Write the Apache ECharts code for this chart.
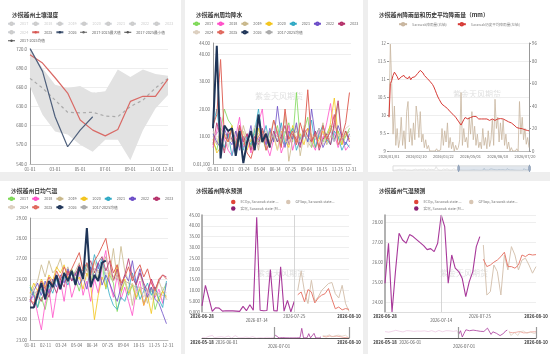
<!DOCTYPE html>
<html><head><meta charset="utf-8">
<script src="https://cdn.jsdelivr.net/npm/echarts@6/dist/echarts.min.js"></script>
<style>
html,body{margin:0;padding:0;background:#eeeeee;width:550px;height:354px;overflow:hidden}
.p{position:absolute;background:#fff}
</style></head><body>
<div id="c1" class="p" style="left:0;top:0;width:181px;height:172px"></div>
<div id="c2" class="p" style="left:185px;top:0;width:178px;height:172px"></div>
<div id="c3" class="p" style="left:368px;top:0;width:182px;height:172px"></div>
<div id="c4" class="p" style="left:0;top:181px;width:181px;height:173px"></div>
<div id="c5" class="p" style="left:185px;top:181px;width:178px;height:173px"></div>
<div id="c6" class="p" style="left:368px;top:181px;width:182px;height:173px"></div>
<script>
const FONT = "'Noto Sans CJK SC','Noto Sans',sans-serif";
function genDates(y, m, d, n, sep, withYear) {
  const out = [];
  const t0 = Date.UTC(y, m - 1, d);
  for (let i = 0; i < n; i++) {
    const dt = new Date(t0 + i * 86400000);
    const mm = String(dt.getUTCMonth() + 1).padStart(2, '0');
    const dd = String(dt.getUTCDate()).padStart(2, '0');
    out.push(withYear ? dt.getUTCFullYear() + sep + mm + sep + dd : mm + sep + dd);
  }
  return out;
}

// ---------- Panel 1 : monthly ----------
const p1Months = ['01-01','02-01','03-01','04-01','05-01','06-01','07-01','08-01','09-01','10-01','11-01','12-01'];
const p1Max  = [719, 690, 664, 659, 662, 651, 654, 688, 676, 688, 681, 678];
const p1Min  = [661, 617, 591, 586, 570, 559, 578, 578, 546, 593, 627, 648];
const p1Mean = [674, 659, 640, 621, 620, 621, 615, 614, 630, 640, 659, 674];
const p1Y2025 = [711, 698, 675, 651, 609, 593, 584, 594, 638, 646, 646, 673];
const p1Y2026 = [721, 685, 614, 567, 593, 614];

// ---------- Panel 2 : rainfall by year (10-day step) ----------
const yearNames = ['2017','2018','2019','2020','2021','2022','2023','2024','2025','2026'];
const yearColors = ['#7ed957','#ff4fc8','#c8b78a','#f3c41a','#2fa9c4','#6b4cc7','#b5316a','#dccfbf','#e0675c','#1f3558'];
const rain2017 = [8,5,12,20,16,14,4,9,7,11,6,13,8,10,5,12,9,14,7,11,15,8,26,9,12,17,6,10,13,8,11,14,9,12,7,10,13];
const rain2018 = [6,12,17,9,5,3,10,17,6,11,4,8,15,20,7,3,9,12,4,8,14,5,10,7,11,13,8,5,12,9,15,22,11,6,10,5,7];
const rain2019 = [10,7,13,5,11,8,12,6,14,9,7,11,5,13,8,10,16,12,7,18,1,9,14,3,11,8,6,12,9,15,7,10,13,22,8,11,9];
const rain2020 = [9,4,6,11,8,14,7,10,12,5,9,6,13,8,11,7,10,5,12,9,6,14,8,11,7,13,10,6,9,12,8,15,24,10,7,12,9];
const rain2021 = [14,20,9,6,11,3,8,13,5,10,7,12,20,9,14,6,11,8,15,7,10,13,5,9,12,8,16,6,11,14,9,7,12,10,5,8,6];
const rain2022 = [11,8,6,13,9,7,12,5,10,8,14,6,9,11,7,13,8,21,10,6,12,9,15,7,11,8,20,10,13,6,9,12,8,14,10,7,11];
const rain2023 = [7,15,10,4,12,9,6,14,8,11,5,10,7,13,9,6,12,8,10,14,7,11,9,6,13,10,8,12,5,9,11,7,15,23,9,12,8];
const rain2024 = [12,9,7,11,6,13,10,8,12,7,9,14,6,10,12,8,11,5,13,9,7,12,10,8,14,6,11,9,13,7,10,12,8,11,9,13,14];
const rain2025 = [14,18,38,10,8,13,6,14,9,4,2,7,10,12,5,8,16,11,6,20,9,12,7,15,10,27,8,11,6,14,9,12,18,7,10,15,26];
const rain2026 = [13,43,2,14,12,13,3,12,0.3,8,12,5,18,8,11,6];
const rainAvg  = [10,11,13,11,10,9,8,11,9,10,8,10,11,12,9,8,11,10,9,12,9,10,12,9,11,13,10,9,10,11,10,13,14,12,9,10,12];

// ---------- Panel 4 : temperature by year (10-day step) ----------
const temp2017 = [25.7,25.3,24.6,25.1,24.5,25.4,25.9,26.1,25.6,26.3,25.8,26.5,26.0,25.4,26.2,26.7,25.9,26.4,26.0,26.8,25.5,26.2,25.8,24.4,25.3,25.9,25.2,25.7,25.0,25.5,24.8,25.3,25.6,24.5,25.1,25.4,25.8];
const temp2018 = [24.9,25.2,24.3,23.5,24.8,25.5,24.1,25.3,25.9,24.9,26.2,25.1,25.7,26.4,25.2,25.9,24.9,26.0,25.3,26.6,27.4,25.8,25.1,26.2,25.0,25.6,24.9,24.2,25.4,25.9,24.7,25.3,26.0,25.1,25.5,24.8,25.8];
const temp2019 = [25.1,25.6,25.9,26.7,26.1,26.9,26.3,26.5,27.0,26.2,26.6,25.9,26.4,26.8,26.1,26.5,25.8,26.9,26.3,26.6,27.1,26.2,27.5,26.0,27.6,26.4,25.9,24.7,25.8,26.3,25.5,24.8,25.6,25.2,25.9,25.4,25.0];
const temp2020 = [25.3,25.8,25.4,26.0,25.6,26.2,25.9,26.6,26.3,26.7,26.0,26.4,25.8,26.1,25.5,26.3,25.7,24.0,25.2,26.1,25.6,26.4,25.9,26.7,25.4,26.0,25.3,25.8,25.1,25.6,24.7,25.2,24.3,25.5,24.9,25.4,25.1];
const temp2021 = [25.6,25.2,24.6,25.5,25.0,25.7,25.3,26.0,25.5,26.1,25.7,26.3,25.9,26.6,26.1,26.8,26.3,27.2,26.5,27.0,26.0,25.2,24.7,24.5,25.1,24.9,25.5,26.3,25.7,25.0,25.4,25.8,25.2,25.6,25.0,24.6,25.9];
const temp2022 = [24.9,25.4,25.8,25.2,25.9,25.3,26.0,25.6,26.2,25.8,26.5,25.9,26.3,25.7,26.1,25.5,26.6,26.0,26.8,25.7,26.2,25.8,25.3,24.9,25.6,26.2,25.9,26.9,25.8,26.5,25.7,25.1,25.6,25.0,24.8,24.3,23.8];
const temp2023 = [25.0,24.7,25.2,24.9,25.5,25.1,25.8,25.3,26.0,25.6,26.4,25.9,26.2,26.7,26.1,26.5,26.9,26.3,26.8,27.1,26.4,26.9,25.9,26.5,25.6,26.2,27.0,26.1,25.7,26.3,25.8,25.4,26.0,25.5,25.9,26.2,26.1];
const temp2024 = [25.2,25.5,25.0,25.6,25.3,25.9,25.5,26.1,25.7,26.2,25.8,26.4,26.0,26.3,25.9,26.6,26.1,26.5,26.0,26.7,26.2,26.4,25.9,26.1,25.6,25.9,25.4,25.8,25.3,25.6,25.1,25.5,25.0,25.4,25.2,25.6,25.3];
const temp2025 = [25.0,24.8,25.4,25.9,25.5,26.1,25.7,26.4,26.0,26.6,26.2,26.5,26.9,27.3,26.4,26.8,26.2,26.9,27.2,27.6,28.0,27.0,26.3,26.7,25.8,26.1,26.6,25.9,26.4,26.7,26.1,26.5,25.8,25.4,26.0,26.2,26.0];
const temp2026 = [24.6,24.6,25.2,25.8,25.0,25.9,25.6,26.2,25.5,26.3,25.9,26.4,25.7,26.6,26.0,28.5,25.6,26.2,25.9,26.8,26.9];
const tempAvg  = [25.2,25.3,25.4,25.5,25.6,25.8,25.8,26.0,26.0,26.2,26.2,26.3,26.3,26.5,26.4,26.5,26.4,26.5,26.4,26.6,26.5,26.3,26.1,26.0,25.9,25.9,25.8,25.7,25.6,25.6,25.5,25.4,25.4,25.3,25.3,25.2,25.2];

// ---------- Panel 3 : daily rainfall + historical mean ----------
const p3RainEarly = [5,12,3,20,8,1,15,6,25,4,10,2,18,7,30,3,12,9,22,5,14,1,8,16,4,28,6,11,3,19,7,24,2,13,9,35,5,17,8,40,12,6,22,10,15,4];
const p3Rain2026 = [30,95,60,15,40,5,20,3,10,30, 5,18,2,35,44,8,20,5,25,10, 40,30,12,35,8,15,3,10,2,5, 0,1,0,0,0,2,0,0,1,20, 5,18,8,25,3,12,2,8,0,5, 1,3,10,52,5,20,8,12,3,30, 15,35,10,22,5,15,3,8,2,20, 5,12,2,18,4,10,28,5,46,20, 30,8,25,10,28,5,15,2,8,0, 3,0,1,0,2,0,44,15,30,10, 20,6,12,3];
const p3Hist2026 = [9.94,10.87,10.96,11.10,11.19,11.17,11.07,10.98,11.01,11.06, 11.01,11.10,11.04,11.09,11.01,11.07,10.98,11.04,11.00,11.06, 11.10,11.15,11.19,11.24,11.22,11.17,11.10,11.06,11.02,10.98, 10.94,10.89,10.85,10.78,10.69,10.59,10.50,10.43,10.36,10.30, 10.26,10.24,10.20,10.18,10.13,10.09,10.06,10.02,9.98,9.94, 9.89,9.83,9.78,9.72,9.76,9.87,9.93,9.91,9.89,9.91, 9.93,9.94,9.96,9.98,9.96,9.93,9.89,9.91,9.89,9.87, 9.89,9.91,9.89,9.87,9.85,9.87,9.89,9.87,9.85,9.90, 9.89,9.91,9.90,9.89,9.89,9.87,9.85,9.83,9.81,9.80, 9.78,9.76,9.72,9.69,9.65,9.63,9.63,9.64,9.62,9.61, 9.59,9.59,9.57,9.56];
const p3Ticks = ['2026/01/01','2026/02/10','2026/03/22','2026/05/01','2026/06/10','2026/07/20'];

// ---------- Panels 5/6 : forecasts ----------
const fcTicks = ['2026-06-28','2026-07-14','2026-07-25','2026-08-10'];
const navTicks = ['2026-05-18','2026-06-01','2026-07-01','2026-08-10'];
const rainActEarly = [2,5,1,0,8,3,12,1,0,4,2,6,14,3,1,9,2,0,5,11,3,1,7,2,0,4,13,2,1,6,3,0,8,2,5,1,10,3,0,2,4];
const rainAct = [2.8,12.4,6.5,0.3,2,1.8,0.4,0.6,0.5,0.5,0.4,0.3,2.6,0.6,3.4,0.8,44,0.8,0.6,0.7,19.7,0.6,0.5,21,0.4,5.4,0.1,5];
const rainEC  = [8,9.3,4.7,10.4,9.3,4.2,6.5,7.8,8.5,10.9,6,1.5,2.3,1,1.6,1.2];
const rainGFS = [10,19,9.3,3.9,14.7,5,7,10,11.6,13.2,13.7,8.5,6.5,12.4,3.9,0.3];
const tempActEarly = [26.5,26.8,26.2,27.0,26.6,26.9,27.2,26.4,26.7,27.1,26.3,26.8,27.0,26.5,26.9,27.3,26.6,26.2,26.8,27.1,26.7,26.4,26.9,27.2,26.5,26.8,27.0,26.6,26.3,26.9,27.1,26.7,26.4,26.8,27.0,26.5,26.9,27.2,26.6,26.8,27.0];
const tempAct = [24.97,26.97,23.53,25.6,27.47,27.13,26.97,27.4,27.3,27.15,27.0,26.85,26.65,26.7,26.55,26.97,28.38,27.8,24.97,26.38,25.72,25.55,25.2,24.3,25.05,25.55,26.8,27.3];
const tempEC  = [26.17,25.8,25.88,26.02,26.13,26.3,26.52,25.8,25.8,25.72,25.88,26.38,26.3,26.42,26.38,26.4];
const tempGFS = [26.88,24.38,24.55,25.88,25.55,24.38,26.38,25.63,26.8,26.38,25.63,26.13,26.22,25.88,25.47,25.8];

// ---------- helpers ----------
const dayCats = genDates(2025, 1, 1, 365, '-', false);
const p3Dates = genDates(2025, 7, 1, 391, '/', true);
const fcDates = genDates(2026, 6, 28, 44, '-', true);
const navDates = genDates(2026, 5, 18, 85, '-', true);
const step10 = vals => vals.map((v, i) => [dayCats[i * 10], v]);
const AXF = 4.3;
const lbl = (extra) => Object.assign({fontSize: AXF, color: '#666', fontFamily: FONT, margin: 3, hideOverlap: false}, extra || {});
const title = (text, left, top) => ({text, left, top, padding: 0, textStyle: {fontSize: 5.8, fontWeight: 'bold', color: '#333', fontFamily: FONT}});
const water = (left, top) => ({type: 'text', left, top, z: 0, silent: true, style: {text: '紫金天风期货', fill: 'rgba(150,150,150,0.3)', fontSize: 8, fontFamily: FONT}});
const legText = {fontSize: 3.7, color: '#666', fontFamily: FONT, lineHeight: 5.5};

function init(id) { return echarts.init(document.getElementById(id), null, {renderer: 'canvas'}); }

// ===== Chart 1 =====
(function () {
  const c = init('c1');
  const band = p1Max.map((v, i) => v - p1Min[i]);
  const years = ['2017','2018','2019','2020','2021','2022','2023','2024'];
  const sel = {}; years.forEach(y => sel[y] = false);
  const series = years.map(y => ({name: y, type: 'line', data: [], symbol: 'emptyCircle'}));
  series.push(
    {name: '2017-2025最小值', type: 'line', stack: 'band', data: p1Min, symbol: 'none', color: '#555', lineStyle: {opacity: 0}, z: 1},
    {name: '2017-2025最大值', type: 'line', stack: 'band', data: band, symbol: 'none', color: '#666', lineStyle: {opacity: 0}, areaStyle: {color: '#e2e2e2', opacity: 1}, z: 1},
    {name: '2017-2025均值', type: 'line', data: p1Mean, symbol: 'none', color: '#555', lineStyle: {color: '#aaa', type: [3, 3], width: 1.2}, z: 3},
    {name: '2025', type: 'line', data: p1Y2025, symbol: 'none', color: '#d9534f', lineStyle: {width: 1.2, color: '#d96a66'}, z: 4},
    {name: '2026', type: 'line', data: p1Y2026, symbol: 'none', color: '#2c3e5c', lineStyle: {width: 1.2, color: '#4f607c'}, z: 5}
  );
  const legendData = years.concat(['2025', '2026',
    {name: '2017-2025最大值', lineStyle: {color: '#666', opacity: 1, width: 1}},
    {name: '2017-2025最小值', lineStyle: {color: '#444', opacity: 1, width: 1}},
    {name: '2017-2025均值', lineStyle: {color: '#555', opacity: 1, width: 1, type: 'solid'}}]);
  c.setOption({
    animation: false,
    title: title('沙捞越州土壤湿度', 12, 12),
    legend: {left: 7, top: 21, width: 172, itemWidth: 7, itemHeight: 3, itemGap: 3, padding: 0, textStyle: legText, inactiveColor: '#ccc', selected: sel, data: legendData},
    grid: {left: 30, right: 13, top: 49, bottom: 8, outerBoundsMode: 'none'},
    xAxis: {type: 'category', data: p1Months, boundaryGap: false, axisTick: {show: false}, axisLine: {lineStyle: {color: '#bbb'}},
      axisLabel: lbl({interval: (i) => i % 2 === 0 || i === 11, showMaxLabel: true, margin: 3})},
    yAxis: {type: 'value', min: 540, max: 720, interval: 30, axisLine: {show: true, lineStyle: {color: '#999'}}, axisTick: {show: false},
      axisLabel: lbl({formatter: v => v.toFixed(1)}), splitLine: {lineStyle: {color: '#eee'}}},
    graphic: [water(72, 92)],
    series
  });
})();

// ===== Chart 2 & 4 builder =====
function yearChart(id, ttl, arrs, avg, yAxis, grid, titleTop, legendTop, wm) {
  const c = init(id);
  const series = yearNames.map((n, k) => ({
    name: n, type: 'line', data: step10(arrs[k]), symbol: 'emptyCircle', showSymbol: false, color: yearColors[k],
    lineStyle: {width: n === '2026' ? 2 : (n === '2025' ? 1 : 0.8), color: yearColors[k]}, z: n === '2026' ? 5 : 2
  }));
  series.push({name: '2017-2025均值', type: 'line', data: step10(avg), symbol: 'emptyCircle', showSymbol: false, color: '#aaa', lineStyle: {width: 0.8, color: '#aaa'}, z: 1});
  c.setOption({
    animation: false,
    title: title(ttl, 11, titleTop),
    legend: {left: 7, top: legendTop, width: 168, itemWidth: 7, itemHeight: 3, itemGap: 3, padding: 0, textStyle: legText,
      data: yearNames.concat(['2017-2025均值'])},
    grid: Object.assign({outerBoundsMode: 'none'}, grid),
    xAxis: {type: 'category', data: dayCats, boundaryGap: false, axisTick: {show: false}, axisLine: {lineStyle: {color: '#bbb'}},
      axisLabel: lbl({interval: (i) => i % 41 === 0 || i === 364})},
    yAxis: Object.assign({type: 'value', axisLine: {show: true, lineStyle: {color: '#999'}}, axisTick: {show: false}, splitLine: {lineStyle: {color: '#eee'}}}, yAxis),
    graphic: [water(wm[0], wm[1])],
    series
  });
}
yearChart('c2', '沙捞越州周均降水',
  [rain2017, rain2018, rain2019, rain2020, rain2021, rain2022, rain2023, rain2024, rain2025, rain2026], rainAvg,
  {min: 0, max: 44, interval: 10, axisLabel: lbl({formatter: v => v === 0 ? '0.01,100' : v.toFixed(2)})},
  {left: 28, right: 12, top: 43, bottom: 8}, 12, 21, [70, 92]);
yearChart('c4', '沙捞越州日均气温',
  [temp2017, temp2018, temp2019, temp2020, temp2021, temp2022, temp2023, temp2024, temp2025, temp2026], tempAvg,
  {min: 23, max: 29, interval: 1, axisLabel: lbl({formatter: v => v.toFixed(2)})},
  {left: 30, right: 13, top: 37, bottom: 14}, 7, 15, [72, 90]);

// ===== Chart 3 =====
(function () {
  const c = init('c3');
  const rainData = p3RainEarly.map((v, i) => [p3Dates[i * 4], v]).concat(p3Rain2026.map((v, i) => [p3Dates[184 + i * 2], v]));
  const histData = p3Hist2026.map((v, i) => [p3Dates[184 + i * 2], v]);
  c.setOption({
    animation: false,
    title: title('沙捞越州降雨量和历史平均降雨量（mm）', 11, 12),
    legend: {left: 'center', top: 22, itemWidth: 8, itemHeight: 3, itemGap: 10, padding: 0, textStyle: {fontSize: 3.6, color: '#888', fontFamily: FONT}},
    grid: {left: 21, right: 21, top: 43, bottom: 21, outerBoundsMode: 'none'},
    xAxis: {type: 'category', data: p3Dates, boundaryGap: false, axisTick: {show: false}, axisLine: {lineStyle: {color: '#bbb'}},
      axisLabel: lbl({fontSize: 4, interval: (i, v) => p3Ticks.includes(v)})},
    yAxis: [
      {type: 'value', min: 9, max: 12, interval: 0.5, axisLine: {show: false}, axisTick: {show: true, length: 2, lineStyle: {color: '#999'}},
        axisLabel: lbl({formatter: v => String(v)}), splitLine: {lineStyle: {color: '#eee'}}},
      {type: 'value', min: 0, max: 96, interval: 20, axisLine: {show: true, lineStyle: {color: '#999'}}, axisTick: {show: true, length: 2, lineStyle: {color: '#999'}},
        axisLabel: lbl(), splitLine: {show: false}}
    ],
    dataZoom: [{type: 'slider', xAxisIndex: 0, startValue: '2026/01/01', endValue: '2026/07/26', left: 22, right: 22, bottom: 2, height: 6,
      showDetail: false, moveHandleSize: 0, handleSize: '120%', borderColor: '#ddd', backgroundColor: 'rgba(0,0,0,0)',
      fillerColor: 'rgba(167,183,204,0.35)', handleStyle: {color: '#a7b7cc', borderColor: '#8fa0b8'},
      dataBackground: {lineStyle: {color: '#ccc', width: 0.5}, areaStyle: {color: '#eee'}},
      selectedDataBackground: {lineStyle: {color: '#9ab', width: 0.5}, areaStyle: {color: '#d5dde8'}}}],
    graphic: [water(85, 90)],
    series: [
      {name: 'Sarawak降雨量(右轴)', type: 'line', yAxisIndex: 1, data: rainData, symbol: 'emptyCircle', showSymbol: false, color: '#c8b59e', lineStyle: {width: 0.8, color: '#c8b59e'}},
      {name: 'Sarawak历史平均降雨量(左轴)', type: 'line', yAxisIndex: 0, data: histData, symbol: 'emptyCircle', showSymbol: false, color: '#d63a35', lineStyle: {width: 1, color: '#d63a35'}, z: 3}
    ]
  });
})();

// ===== Chart 5 & 6 builder =====
function fcChart(id, ttl, act, ec, gfs, early, yAxis, markDate, yFmt) {
  const c = init(id);
  const actData = act.map((v, i) => [fcDates[i], v]);
  const ecData = ec.map((v, i) => [fcDates[28 + i], v]);
  const gfsData = gfs.map((v, i) => [fcDates[28 + i], v]);
  const navEarly = early.map((v, i) => [navDates[i], v]).concat([[navDates[41], act[0]]]);
  const navAct = act.map((v, i) => [navDates[41 + i], v]);
  const navEc = ec.map((v, i) => [navDates[69 + i], v]);
  const navGfs = gfs.map((v, i) => [navDates[69 + i], v]);
  const rich = {b: {fontSize: 4.3, fontWeight: 'bold', color: '#333', fontFamily: FONT}, n: {fontSize: 4.3, color: '#555', fontFamily: FONT}};
  const fmt = v => (v === '2026-06-28' || v === '2026-08-10' || v === '2026-05-18') ? '{b|' + v + '}' :
    ((v === '2026-07-14' || v === '2026-07-01') ? '\n{n|' + v + '}' : '{n|' + v + '}');
  const purple = '#8a1f73', red = '#e0453a', tan = '#d6c4b2';
  c.setOption({
    animation: false,
    title: title(ttl, 11, 7),
    legend: {left: 46, top: 18.5, width: 125, itemWidth: 4.5, itemHeight: 4.5, itemGap: 1.5, padding: 0, icon: 'circle',
      textStyle: {fontSize: 3.6, color: '#777', fontFamily: FONT, lineHeight: 5, padding: [0, 6, 0, 0]},
      data: ['ECOp, Sarawak state ...', 'GFSop, Sarawak state...', '实况, Sarawak state (M...']},
    grid: [{left: 17, right: 14, top: 34, bottom: 42, outerBoundsMode: 'none'}, {left: 17, right: 14, top: 146, height: 11, outerBoundsMode: 'none'}],
    xAxis: [
      {type: 'category', gridIndex: 0, data: fcDates, boundaryGap: false, axisTick: {show: false}, axisLine: {lineStyle: {color: '#ddd'}},
        axisLabel: {interval: (i, v) => fcTicks.includes(v), formatter: fmt, rich, margin: 2, lineHeight: 4.5, hideOverlap: false}},
      {type: 'category', gridIndex: 1, data: navDates, boundaryGap: false, axisTick: {show: false}, axisLine: {lineStyle: {color: '#555', width: 1}},
        axisLabel: {interval: (i, v) => navTicks.includes(v), formatter: fmt, rich, margin: 2, lineHeight: 4.5, hideOverlap: false}}
    ],
    yAxis: [
      Object.assign({type: 'value', gridIndex: 0, axisLine: {show: true, lineStyle: {color: '#999', width: 1.5}}, axisTick: {show: false},
        splitLine: {lineStyle: {color: '#eee'}}, axisLabel: lbl({formatter: yFmt, margin: 2})}, yAxis),
      {type: 'value', gridIndex: 1, show: false, scale: true, splitLine: {show: false}}
    ],
    graphic: [water(72, 88)],
    series: [
      {name: 'ECOp, Sarawak state ...', type: 'line', data: ecData, symbol: 'none', color: red, lineStyle: {width: 1, color: '#e77b6e'}, z: 3},
      {name: 'GFSop, Sarawak state...', type: 'line', data: gfsData, symbol: 'none', color: '#d8c6b4', lineStyle: {width: 1, color: tan}, z: 2},
      {name: '实况, Sarawak state (M...', type: 'line', data: actData, symbol: 'none', color: purple, lineStyle: {width: 1.1, color: '#a8389a'}, z: 4,
        markLine: {silent: true, symbol: 'none', label: {show: false}, lineStyle: {color: '#ccc', type: 'solid', width: 0.8}, data: [{xAxis: markDate}]}},
      {name: 'navEarly', type: 'line', xAxisIndex: 1, yAxisIndex: 1, data: navEarly, symbol: 'none', lineStyle: {width: 0.6, color: '#e9b8dc'}},
      {name: 'navAct', type: 'line', xAxisIndex: 1, yAxisIndex: 1, data: navAct, symbol: 'none', lineStyle: {width: 0.8, color: '#a8389a'},
        markLine: {silent: true, symbol: 'none', label: {show: false}, lineStyle: {color: '#999', type: 'solid', width: 1.2}, data: [{xAxis: '2026-06-28'}, {xAxis: '2026-08-10'}]}},
      {name: 'navEc', type: 'line', xAxisIndex: 1, yAxisIndex: 1, data: navEc, symbol: 'none', lineStyle: {width: 0.6, color: '#e77b6e'}},
      {name: 'navGfs', type: 'line', xAxisIndex: 1, yAxisIndex: 1, data: navGfs, symbol: 'none', lineStyle: {width: 0.6, color: tan}}
    ]
  });
}
fcChart('c5', '沙捞越州降水预测', rainAct, rainEC, rainGFS, rainActEarly,
  {min: 0, max: 45, interval: 5}, '2026-07-25',
  v => v === 0 ? '0.000' : (v < 10 ? v.toFixed(3) : v.toFixed(2)));
fcChart('c6', '沙捞越州气温预测', tempAct, tempEC, tempGFS, tempActEarly,
  {min: 'dataMin', max: 'dataMax', splitNumber: 5, axisLabel: lbl({formatter: v => v.toFixed(2), margin: 2, showMinLabel: false, showMaxLabel: false})}, '2026-07-14',
  v => v.toFixed(2));
</script>
</body></html>
